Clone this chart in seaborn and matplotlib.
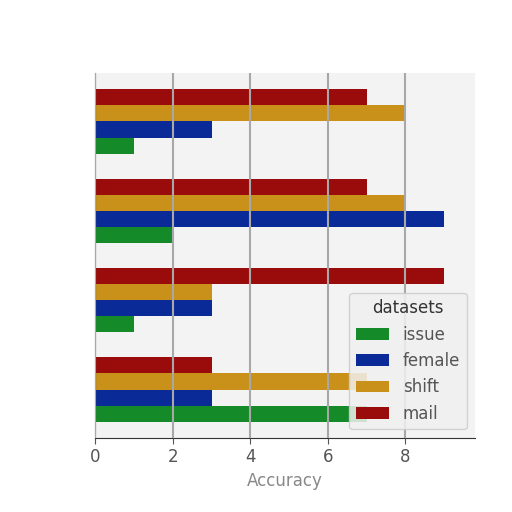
import matplotlib
matplotlib.use("Agg")
import matplotlib.pyplot as plt
import seaborn as sns
import pandas as pd

groups = ["G1", "G2", "G3", "G4"]
mail = [7, 7, 9, 3]
shift = [8, 8, 3, 7]
female = [3, 9, 3, 3]
issue = [1, 2, 1, 7]
legend_order = ["issue", "female", "shift", "mail"]
colors = {"issue": "#148a28", "female": "#0a2a98", "shift": "#c9901a", "mail": "#9a0c0c"}

rows = []
for name, vals in [("mail", mail), ("shift", shift), ("female", female), ("issue", issue)]:
    for g, v in zip(groups, vals):
        rows.append({"group": g, "datasets": name, "Accuracy": v})
df = pd.DataFrame(rows)

sns.set_style("ticks", {"axes.grid": True, "grid.color": "#a8a8a8",
                        "axes.facecolor": "#f3f3f3", "axes.edgecolor": "#333333"})
fig = plt.figure(figsize=(5.12, 5.12), dpi=100)
ax = fig.add_axes([0.186, 0.145, 0.742, 0.712])

sns.barplot(data=df, y="group", x="Accuracy", hue="datasets",
            hue_order=["mail", "shift", "female", "issue"], palette=colors,
            orient="h", width=0.72, saturation=1, ax=ax, order=groups,
            linewidth=0)

ax.set_axisbelow(False)
ax.grid(axis="y", visible=False)
ax.grid(axis="x", color="#a8a8a8", linewidth=1.5)
ax.set_xlim(0, 9.8)
ax.set_ylim(3.54, -0.54)
ax.set_xticks([0, 2, 4, 6, 8])
ax.set_yticks([])
ax.set_ylabel("")
ax.set_xlabel("Accuracy", fontsize=12, color="#888888")
ax.tick_params(axis="x", labelsize=12, colors="#555555", length=4)
for s in ["top", "right"]:
    ax.spines[s].set_visible(False)

h, l = ax.get_legend_handles_labels()
hm = dict(zip(l, h))
ax.legend([hm[k] for k in legend_order], legend_order, title="datasets",
          loc="lower right", fontsize=12, title_fontsize=12, framealpha=0.85,
          facecolor="#f0f0f0", edgecolor="#cccccc")
for t in ax.get_legend().get_texts():
    t.set_color("#555555")
ax.get_legend().get_title().set_color("#333333")

fig.savefig("out.png", dpi=100)
